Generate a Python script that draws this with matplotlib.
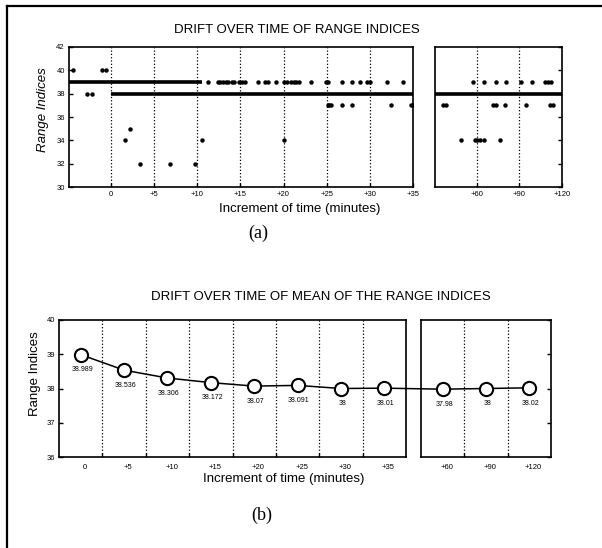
import matplotlib
matplotlib.use("Agg")
import matplotlib.pyplot as plt
from matplotlib.lines import Line2D
from matplotlib.patches import ConnectionPatch
from matplotlib.transforms import ScaledTranslation

plt.rcParams['font.family'] = ['Liberation Sans', 'DejaVu Sans']

# ---- (a) raw range indices ----
# dense runs: (start, end, index)
runs_a_left = [(-4.85, 10.6, 39), (0.0, 35.0, 38)]
runs_a_right = [(30.7, 120.0, 38)]

# isolated samples, grouped by index value
a_left_t39 = [11.2, 12.4, 12.7, 13.0, 13.3, 13.6, 14.0, 14.3, 14.9, 15.2, 15.5,
              17.1, 17.8, 18.2, 19.1, 20.1, 20.4, 20.9, 21.2, 21.5, 21.8, 23.2,
              24.9, 25.1, 26.8, 27.9, 28.9, 29.7, 30.0, 32.0, 33.8]
a_left_t40 = [-4.4, -1.0, -0.6]
a_left_t38 = [-2.8, -2.2]
a_left_t37 = [25.1, 25.3, 25.5, 26.8, 27.9, 32.4, 34.8, 35.0]
a_left_t35 = [2.2]
a_left_t34 = [1.6, 10.6, 20.1]
a_left_t32 = [3.4, 6.8, 9.8]

a_right_t39 = [57.5, 65.0, 73.3, 80.5, 91.0, 98.7, 108.0, 110.0, 112.3]
a_right_t37 = [36.0, 38.3, 71.5, 73.5, 80.0, 94.6, 111.5, 114.0]
a_right_t34 = [49.0, 58.8, 60.2, 62.0, 65.1, 76.7]

a_left_ticks = [0, 5, 10, 15, 20, 25, 30, 35]
a_left_labels = ['0', '+5', '+10', '+15', '+20', '+25', '+30', '+35']
a_right_ticks = [60, 90, 120]
a_right_labels = ['+60', '+90', '+120']

# ---- (b) mean of range indices ----
b_left_labels = ['0', '+5', '+10', '+15', '+20', '+25', '+30', '+35']
b_left_means = [38.989, 38.536, 38.306, 38.172, 38.07, 38.091, 38, 38.01]
b_right_labels = ['+60', '+90', '+120']
b_right_means = [37.98, 38, 38.02]

W, H = 602, 548
fig = plt.figure(figsize=(W / 100, H / 100), dpi=100)


def box(x0, y0, x1, y1):
    return [x0 / W, 1 - y1 / H, (x1 - x0) / W, (y1 - y0) / H]


def style(ax):
    for s in ax.spines.values():
        s.set_linewidth(1.2)
    ax.tick_params(direction='in', length=3, width=1, labelsize=5.5, pad=3)
    ax.grid(axis='x', which='major', linestyle=':', color='k', linewidth=0.9)


def dots(ax, t, v):
    ax.plot(t, [v] * len(t), linestyle='none', marker='o', color='k', ms=2.2)


ax1 = fig.add_axes(box(69, 47, 413, 187))
ax2 = fig.add_axes(box(435, 47, 562, 187))
for ax in (ax1, ax2):
    style(ax)
    ax.set_ylim(30, 42)
    ax.set_yticks(range(30, 43, 2))

ax1.set_xlim(-4.85, 35)
ax1.set_xticks(a_left_ticks)
ax1.set_xticklabels(a_left_labels)
for s, e, v in runs_a_left:
    ax1.hlines(v, s, e, color='k', linewidth=2.6)
dots(ax1, a_left_t39, 39)
dots(ax1, a_left_t40, 40)
dots(ax1, a_left_t38, 38)
dots(ax1, a_left_t37, 37)
dots(ax1, a_left_t35, 35)
dots(ax1, a_left_t34, 34)
dots(ax1, a_left_t32, 32)

ax2.set_xlim(30.7, 120)
ax2.set_xticks(a_right_ticks)
ax2.set_xticklabels(a_right_labels)
ax2.yaxis.tick_right()
ax2.tick_params(labelright=False)
for s, e, v in runs_a_right:
    ax2.hlines(v, s, e, color='k', linewidth=2.6)
dots(ax2, a_right_t39, 39)
dots(ax2, a_right_t37, 37)
dots(ax2, a_right_t34, 34)

# (b): one cell per time step, grid on the cell edges
ax3 = fig.add_axes(box(59, 320, 406, 457))
ax4 = fig.add_axes(box(421, 320, 551, 457))
shift = ScaledTranslation(3 / 72, 0, fig.dpi_scale_trans)
for ax, labels, means in ((ax3, b_left_labels, b_left_means),
                          (ax4, b_right_labels, b_right_means)):
    n = len(means)
    style(ax)
    ax.set_ylim(36, 40)
    ax.set_yticks(range(36, 41))
    ax.set_xlim(-0.5, n - 0.5)
    ax.set_xticks([i + 0.5 for i in range(n - 1)])
    ax.set_xticklabels([])
    ax.set_xticks(range(n), minor=True)
    ax.set_xticklabels(labels, minor=True)
    ax.tick_params(axis='x', which='minor', length=0, labelsize=5.5, pad=5)
    for lbl in ax.get_xticklabels(minor=True):
        lbl.set_transform(lbl.get_transform() + shift)
    ax.plot(range(n), means, color='k', linewidth=1.1, marker='o',
            ms=9.5, mfc='white', mec='k', mew=1.5)
    for i, v in enumerate(means):
        ax.annotate(f"{v:g}", (i, v), xytext=(1, -11), textcoords='offset points',
                    ha='center', va='center', fontsize=5)
ax4.yaxis.tick_right()
ax4.tick_params(labelright=False)

con = ConnectionPatch(xyA=(len(b_left_means) - 1, b_left_means[-1]), coordsA=ax3.transData,
                      xyB=(0, b_right_means[0]), coordsB=ax4.transData,
                      color='k', linewidth=1.1, shrinkA=5, shrinkB=5)
fig.add_artist(con)

# titles, axis labels and panel letters
fig.text(297 / W, 1 - 30 / H, 'DRIFT OVER TIME OF RANGE INDICES', ha='center', va='center', fontsize=9.5)
fig.text(300 / W, 1 - 209 / H, 'Increment of time (minutes)', ha='center', va='center', fontsize=9.5)
fig.text(43 / W, 1 - 110 / H, 'Range Indices', ha='center', va='center', rotation=90, fontsize=9.5,
         style='italic')
fig.text(258 / W, 1 - 233 / H, '(a)', ha='center', va='center', fontsize=13, family='Liberation Serif')

fig.text(321 / W, 1 - 297 / H, 'DRIFT OVER TIME OF MEAN OF THE RANGE INDICES', ha='center', va='center',
         fontsize=9.5)
fig.text(284 / W, 1 - 479 / H, 'Increment of time (minutes)', ha='center', va='center', fontsize=9.5)
fig.text(35 / W, 1 - 374 / H, 'Range Indices', ha='center', va='center', rotation=90, fontsize=9.5)
fig.text(262 / W, 1 - 515 / H, '(b)', ha='center', va='center', fontsize=13, family='Liberation Serif')

# page frame (left and top edges)
fig.add_artist(Line2D([7 / W, 7 / W], [0, 1 - 6 / H], transform=fig.transFigure, color='k', linewidth=1.6))
fig.add_artist(Line2D([7 / W, 1], [1 - 6 / H, 1 - 6 / H], transform=fig.transFigure, color='k', linewidth=1.6))

fig.savefig('out.png', dpi=100)
